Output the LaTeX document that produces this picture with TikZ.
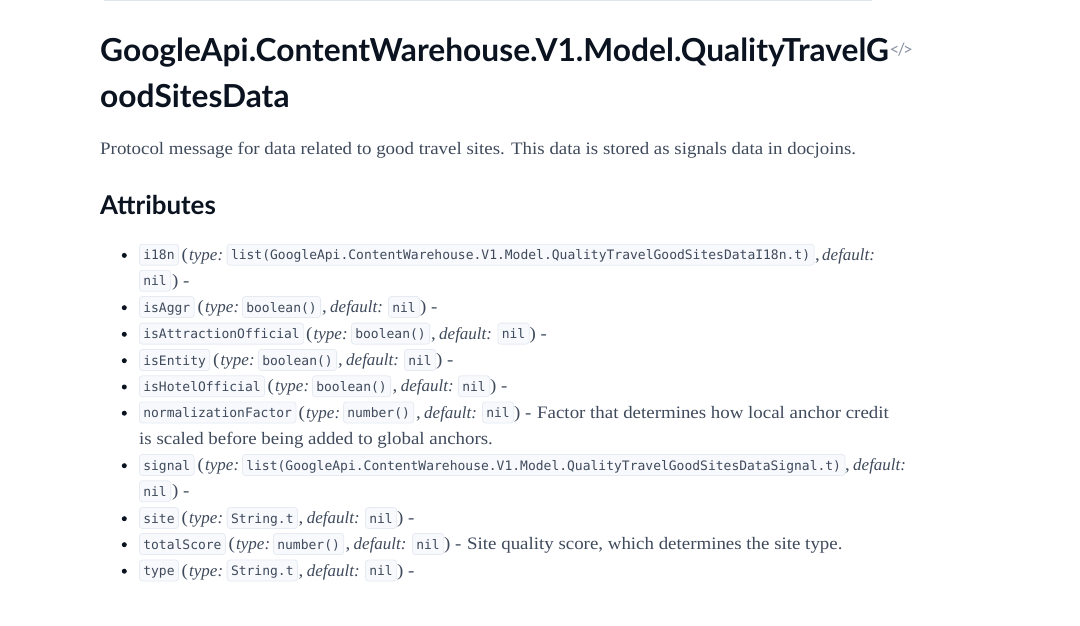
\documentclass[tikz,border=0pt]{standalone}
\usepackage{fontspec}
\setmainfont{Liberation Serif}
\newfontfamily\bodyfont[FakeStretch=1.08]{Liberation Serif}
\newfontfamily\headfont{Lato}
\newfontfamily\tagfont[LetterSpace=-12]{Lato}
\setmonofont{DejaVu Sans Mono}
\definecolor{inktext}{HTML}{3F4A5C}
\definecolor{inkhead}{HTML}{0B1320}
\definecolor{chipfill}{HTML}{F7F9FC}
\definecolor{chipline}{HTML}{E6EBF2}
\definecolor{topbar}{HTML}{DDE5EF}
\definecolor{taggray}{HTML}{8A94A3}
\tikzset{
  x=1pt,y=-1pt,
  chip/.style={draw=chipline,fill=chipfill,rounded corners=3pt,line width=.8pt,anchor=west,inner xsep=3.9pt,inner ysep=0pt,minimum height=21pt,text height=13pt,text depth=3pt,text=inktext,font=\fontsize{13}{13}\selectfont\ttfamily},
  body/.style={anchor=base west,inner sep=0pt,text=inktext,font=\fontsize{17.5}{17.5}\selectfont\bodyfont},
  ital/.style={anchor=base west,inner sep=0pt,text=inktext,font=\fontsize{17}{17}\selectfont\rmfamily\itshape},
  dotm/.style={circle,fill=inkhead,inner sep=0pt,minimum size=5pt,yshift=-.7pt},
  head/.style={anchor=base west,inner sep=0pt,text=inkhead,font=\fontsize{31.7}{32}\selectfont\headfont\bfseries},
  subhead/.style={anchor=base west,inner sep=0pt,text=inkhead,font=\fontsize{25.9}{26}\selectfont\headfont\bfseries},
  tagmark/.style={anchor=base west,inner sep=0pt,text=taggray,font=\fontsize{17}{17}\selectfont\tagfont}
}
\begin{document}
\begin{tikzpicture}
\useasboundingbox (0,0) rectangle (1080,626);
\fill[white] (0,0) rectangle (1080,626);
\fill[topbar] (104,-2) rectangle (872,1);
\node[head] (t1) at (100,61.5) {GoogleApi.ContentWarehouse.V1.Model.QualityTravelG};
\node[head] (t2) at (100,107.5) {oodSitesData};
\node[tagmark] (tc) at (889.5,56) {</>};
\node[body] (p) at (100,154) {Protocol message for data related to good travel sites. This data is stored as signals data in docjoins.};
\node[subhead] (a) at (100,214.3) {Attributes};
% row 1
\node[dotm] (d1) at (124.3,254.7) {};
\node[chip] (c1) at (139,254.7) {i18n};
\node[body] (o1) at (181.5,260.3) {(};
\node[ital] (i1) at (189,260.3) {type:};
\node[chip] (c1b) at (226.7,254.7) {list(GoogleApi.ContentWarehouse.V1.Model.QualityTravelGoodSitesDataI18n.t)};
\node[body] (m1) at (815,260.3) {,};
\node[ital] (j1) at (822,260.3) {default:};
\node[chip] (c1c) at (139,280.7) {nil};
\node[body] (e1) at (172,286.3) {) -};
% row 2
\node[dotm] (d2) at (124.3,307) {};
\node[chip] (c2) at (139,307) {isAggr};
\node[body] (o2) at (197.5,312.6) {(};
\node[ital] (i2) at (205,312.6) {type:};
\node[chip] (c2b) at (242,307) {boolean()};
\node[body] (m2) at (322,312.6) {,};
\node[ital] (j2) at (330,312.6) {default:};
\node[chip] (c2c) at (388,307) {nil};
\node[body] (e2) at (420,312.6) {) -};
% row 3
\node[dotm] (d3) at (124.3,333.6) {};
\node[chip] (c3) at (139,333.6) {isAttractionOfficial};
\node[body] (o3) at (306,339.2) {(};
\node[ital] (i3) at (313.5,339.2) {type:};
\node[chip] (c3b) at (351,333.6) {boolean()};
\node[body] (m3) at (431,339.2) {,};
\node[ital] (j3) at (439,339.2) {default:};
\node[chip] (c3c) at (497.5,333.6) {nil};
\node[body] (e3) at (529.5,339.2) {) -};
% row 4
\node[dotm] (d4) at (124.3,360) {};
\node[chip] (c4) at (139,360) {isEntity};
\node[body] (o4) at (213,365.6) {(};
\node[ital] (i4) at (220.5,365.6) {type:};
\node[chip] (c4b) at (258,360) {boolean()};
\node[body] (m4) at (338,365.6) {,};
\node[ital] (j4) at (346,365.6) {default:};
\node[chip] (c4c) at (404,360) {nil};
\node[body] (e4) at (436,365.6) {) -};
% row 5
\node[dotm] (d5) at (124.3,386.3) {};
\node[chip] (c5) at (139,386.3) {isHotelOfficial};
\node[body] (o5) at (267.5,391.9) {(};
\node[ital] (i5) at (275,391.9) {type:};
\node[chip] (c5b) at (312,386.3) {boolean()};
\node[body] (m5) at (392.5,391.9) {,};
\node[ital] (j5) at (400.7,391.9) {default:};
\node[chip] (c5c) at (458,386.3) {nil};
\node[body] (e5) at (490,391.9) {) -};
% row 6
\node[dotm] (d6) at (124.3,412.5) {};
\node[chip] (c6) at (139,412.5) {normalizationFactor};
\node[body] (o6) at (298.5,418.1) {(};
\node[ital] (i6) at (306,418.1) {type:};
\node[chip] (c6b) at (343,412.5) {number()};
\node[body] (m6) at (416,418.1) {,};
\node[ital] (j6) at (424,418.1) {default:};
\node[chip] (c6c) at (482,412.5) {nil};
\node[body] (e6) at (514,418.1) {) -};
\node[body] (e6f) at (537,418.1) {Factor that determines how local anchor credit};
\node[body] (e6b) at (139,444.5) {is scaled before being added to global anchors.};
% row 7
\node[dotm] (d7) at (124.3,465) {};
\node[chip] (c7) at (139,465) {signal};
\node[body] (o7) at (197.5,470.6) {(};
\node[ital] (i7) at (205,470.6) {type:};
\node[chip] (c7b) at (242,465) {list(GoogleApi.ContentWarehouse.V1.Model.QualityTravelGoodSitesDataSignal.t)};
\node[body] (m7) at (845,470.6) {,};
\node[ital] (j7) at (853,470.6) {default:};
\node[chip] (c7c) at (139,491.3) {nil};
\node[body] (e7) at (172,496.9) {) -};
% row 8
\node[dotm] (d8) at (124.3,518) {};
\node[chip] (c8) at (139,518) {site};
\node[body] (o8) at (181.5,523.6) {(};
\node[ital] (i8) at (189,523.6) {type:};
\node[chip] (c8b) at (226.7,518) {String.t};
\node[body] (m8) at (298.5,523.6) {,};
\node[ital] (j8) at (306.7,523.6) {default:};
\node[chip] (c8c) at (365,518) {nil};
\node[body] (e8) at (397,523.6) {) -};
% row 9
\node[dotm] (d9) at (124.3,544) {};
\node[chip] (c9) at (139,544) {totalScore};
\node[body] (o9) at (228.5,549.6) {(};
\node[ital] (i9) at (236,549.6) {type:};
\node[chip] (c9b) at (273,544) {number()};
\node[body] (m9) at (345.5,549.6) {,};
\node[ital] (j9) at (353.5,549.6) {default:};
\node[chip] (c9c) at (412,544) {nil};
\node[body] (e9) at (444,549.6) {) -};
\node[body] (e9f) at (467,549.6) {Site quality score, which determines the site type.};
% row 10
\node[dotm] (d10) at (124.3,570.5) {};
\node[chip] (c10) at (139,570.5) {type};
\node[body] (o10) at (181.5,576.1) {(};
\node[ital] (i10) at (189,576.1) {type:};
\node[chip] (c10b) at (226.7,570.5) {String.t};
\node[body] (m10) at (298.5,576.1) {,};
\node[ital] (j10) at (306.7,576.1) {default:};
\node[chip] (c10c) at (365,570.5) {nil};
\node[body] (e10) at (397,576.1) {) -};
\end{tikzpicture}
\end{document}
